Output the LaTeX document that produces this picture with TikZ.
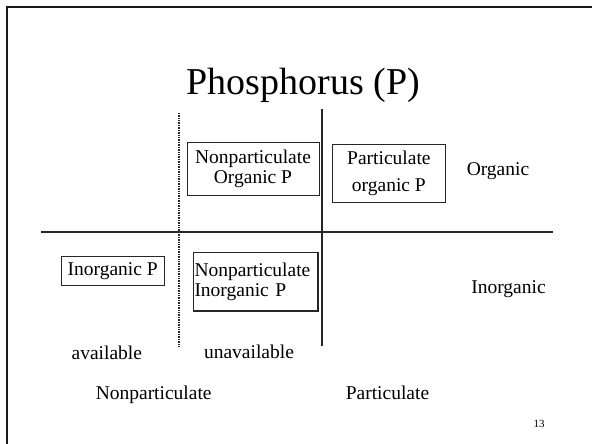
\documentclass[tikz,border=0pt]{standalone}
\usepackage{fontspec}
\setmainfont{Liberation Serif}
\tikzset{
  body/.style={font=\fontsize{19.5}{20}\selectfont, inner sep=0pt},
  pbox/.style={draw=black!85, line width=0.9pt, align=center, inner sep=0pt,
    font=\fontsize{19.5}{20}\selectfont},
  lbl/.style={font=\fontsize{19.5}{20}\selectfont, anchor=base, inner sep=0pt},
  axis/.style={line width=2pt, draw=black!85},
  dotaxis/.style={line width=1.3pt, draw=black!85, dash pattern=on 0.8pt off 0.9pt}
}
\begin{document}
\begin{tikzpicture}[x=1pt,y=-1pt]
\useasboundingbox (0,0) rectangle (592,444);
\clip (0,0) rectangle (592,444);
% slide frame
\draw[line width=2.6pt, black!90] (7,7) rectangle (640,480);
% title
\node[anchor=base, inner sep=0pt, font=\fontsize{38}{40}\selectfont] (title) at (303.5,95) {Phosphorus (P)};
% axes
\coordinate (hl) at (41,232);
\coordinate (hr) at (553,232);
\coordinate (vt) at (322,109);
\coordinate (vb) at (322,346);
\coordinate (dt) at (179,113);
\coordinate (db) at (179,346);
\draw[axis] (hl) -- (hr);
\draw[axis] (vt) -- (vb);
\draw[dotaxis] (dt) -- (db);
% boxes
\node[pbox, minimum width=132pt, minimum height=53pt] (noc) at (253,168.7) {Nonparticulate\\Organic P};
\node[pbox, minimum width=113.7pt, minimum height=58pt] (pop) at (388.9,173) {Particulate\\[7pt]organic P};
\node[pbox, minimum width=103.3pt, minimum height=28.3pt] (iop) at (112.7,270.8) {Inorganic P};
\node[pbox, line width=1.6pt, text width=122pt, align=left, inner xsep=1.2pt, minimum height=58.4pt] (nip) at (255.5,281.5) {Nonparticulate\\Inorganic P};
% labels
\node[lbl] (org) at (498,175) {Organic};
\node[lbl] (inorg) at (508.5,293) {Inorganic};
\node[lbl] (avail) at (106.8,359) {available};
\node[lbl] (unavail) at (249,358) {unavailable};
\node[lbl] (nonp) at (153.7,399) {Nonparticulate};
\node[lbl] (part) at (387.5,399) {Particulate};
\node[anchor=base, inner sep=0pt, font=\fontsize{11}{12}\selectfont] (pg) at (539,427) {13};
\end{tikzpicture}
\end{document}
